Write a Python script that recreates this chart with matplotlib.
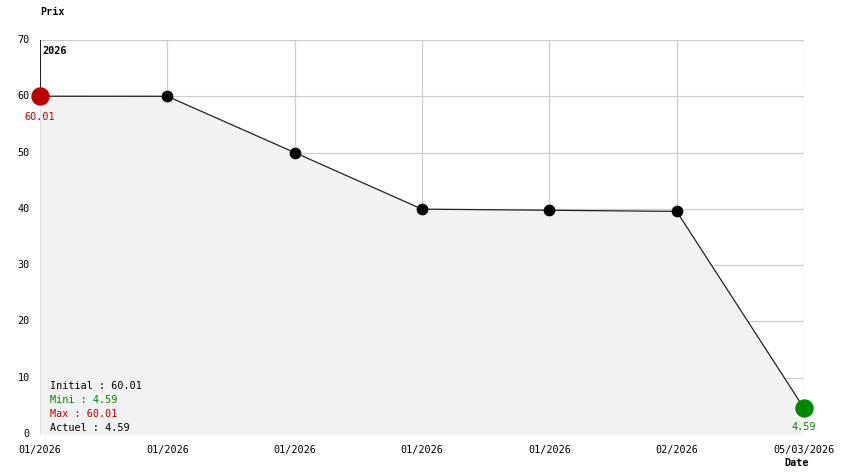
import matplotlib
matplotlib.use("Agg")
import matplotlib.pyplot as plt

x_labels = ["01/2026", "01/2026", "01/2026", "01/2026", "01/2026", "02/2026", "05/03/2026"]
prices = [60.01, 60.0, 50.0, 39.95, 39.75, 39.55, 4.59]
y_ticks = [0, 10, 20, 30, 40, 50, 60, 70]
stats = [("Initial : 60.01", "black"), ("Mini : 4.59", "#008800"),
         ("Max : 60.01", "#bb0000"), ("Actuel : 4.59", "black")]

W, H = 844, 474
fig = plt.figure(figsize=(W / 100, H / 100), dpi=100)
ax = fig.add_axes([40 / W, 40 / H, 764 / W, 394 / H])
xs = list(range(len(prices)))
ax.set_xlim(0, len(prices) - 1)
ax.set_ylim(0, 70)
for s in ax.spines.values():
    s.set_visible(False)

font = "DejaVu Sans Mono"
fs = 7.3
# grid
for xv in xs:
    ax.axvline(xv, color="#cccccc", lw=0.9, zorder=1)
for yv in y_ticks:
    ax.axhline(yv, color="#cccccc", lw=0.9, zorder=1)

ax.fill_between(xs, prices, 0, color="#f2f2f2", zorder=2, lw=0)
ax.plot(xs, prices, color="#222222", lw=0.9, zorder=3)
ax.scatter(xs[1:-1], prices[1:-1], s=55, color="black", zorder=4, clip_on=False)
ax.scatter([xs[0]], [prices[0]], s=150, color="#bb0000", zorder=5, clip_on=False)
ax.scatter([xs[-1]], [prices[-1]], s=150, color="#008800", zorder=5, clip_on=False)
ax.plot([0, 0], [prices[0], 70], color="black", lw=1.2, zorder=3)

ax.set_xticks([])
ax.set_yticks([])
for yv in y_ticks:
    ax.text(-0.08, yv, str(yv), ha="right", va="center", fontsize=fs, family=font)
for xv, lab in zip(xs, x_labels):
    ax.text(xv, -2.8, lab, ha="center", va="center", fontsize=fs, family=font)

ax.text(0.02, 68.0, "2026", ha="left", va="center", fontsize=fs, family=font, weight="bold")
ax.text(0, 56.4, "60.01", ha="center", va="center", fontsize=fs, family=font, color="#bb0000")
ax.text(len(prices) - 1, 1.3, "4.59", ha="center", va="center", fontsize=fs, family=font, color="#008800")

fig.text(40 / W, 1 - 12 / H, "Prix", ha="left", va="center", fontsize=fs, family=font, weight="bold")
fig.text(797 / W, 1 - 463 / H, "Date", ha="center", va="center", fontsize=fs, family=font, weight="bold")

for i, (t, c) in enumerate(stats):
    fig.text(50 / W, 1 - (386 + i * 14) / H, t, ha="left", va="center", fontsize=fs,
             family=font, color=c)

fig.savefig("out.png", dpi=100)
